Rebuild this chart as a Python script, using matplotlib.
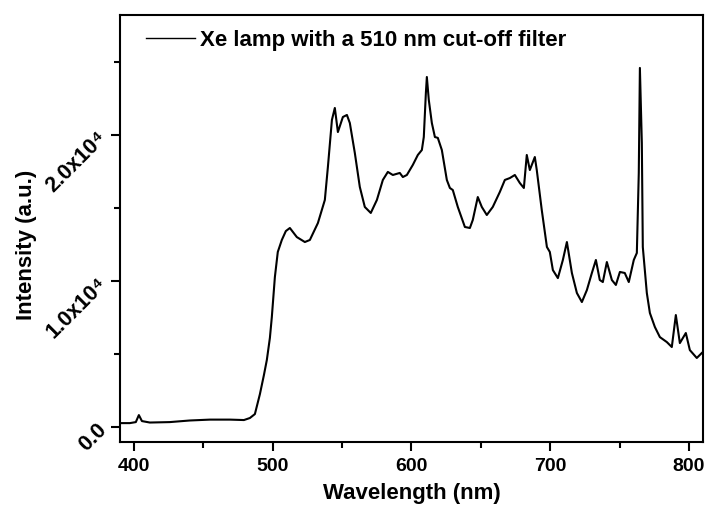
import matplotlib.pyplot as plt
from matplotlib.lines import Line2D
from matplotlib.ticker import MultipleLocator, FuncFormatter
import numpy as np

# spectrum
wavelength = [390.0, 397.1, 401.4, 403.6, 405.8, 411.5, 425.9, 440.3, 454.8, 469.2,
              479.3, 483.6, 487.2, 490.8, 493.7, 495.8, 498.0, 499.4, 501.6, 503.7,
              506.6, 509.5, 512.4, 517.4, 523.2, 526.8, 532.6, 537.6, 539.8, 542.7,
              544.8, 547.0, 550.6, 553.5, 555.6, 559.2, 562.8, 566.4, 570.7, 575.1,
              579.4, 583.0, 586.6, 591.6, 593.8, 596.7, 601.0, 604.6, 607.5, 608.9,
              610.4, 611.1, 612.5, 614.7, 616.9, 619.0, 621.9, 625.5, 627.7, 629.8,
              633.4, 638.5, 642.1, 644.2, 647.8, 650.7, 654.3, 658.6, 663.7, 667.3,
              670.9, 674.5, 678.1, 681.0, 683.1, 685.3, 688.9, 690.3, 693.9, 697.6,
              699.7, 701.9, 705.5, 709.1, 712.0, 715.6, 719.2, 722.8, 726.4, 730.0,
              732.9, 735.7, 737.9, 740.8, 744.4, 747.3, 750.2, 753.7, 756.6, 760.2,
              762.4, 763.8, 764.6, 766.0, 766.7, 769.6, 771.8, 775.4, 779.0, 784.0,
              787.6, 790.5, 793.4, 797.7, 800.6, 805.6, 809.2]
intensity = [270, 270, 340, 820, 410, 310, 340, 450, 510, 510,
             480, 620, 890, 2250, 3560, 4590, 6100, 7530, 10270, 11990,
             12810, 13420, 13630, 13010, 12670, 12810, 13970, 15550, 17810, 21030,
             21850, 20200, 21230, 21370, 20820, 18770, 16440, 15070, 14660, 15550,
             16920, 17470, 17260, 17400, 17120, 17260, 17950, 18630, 18970, 19860,
             22880, 23970, 22400, 20820, 19860, 19800, 18970, 16920, 16370, 16230,
             15070, 13700, 13630, 14180, 15750, 15070, 14520, 15070, 16100, 16920,
             17050, 17260, 16710, 16370, 18630, 17600, 18490, 17600, 14860, 12330,
             11990, 10750, 10200, 11440, 12670, 10550, 9180, 8560, 9380, 10550,
             11440, 10070, 9930, 11300, 10070, 9730, 10620, 10550, 9930, 11440,
             11920, 17400, 24590, 19450, 12330, 9180, 7810, 6850, 6160, 5820,
             5480, 7670, 5750, 6440, 5270, 4730, 5070]

x_ticks = [400, 500, 600, 700, 800]
y_ticks = [0, 10000, 20000]

plt.rcParams['font.family'] = ['Liberation Sans', 'DejaVu Sans']
plt.rcParams['font.weight'] = 'bold'

fig = plt.figure(figsize=(7.1, 5.07), dpi=100)
ax = fig.add_axes([0.169, 0.128, 0.821, 0.842])

ax.plot(wavelength, intensity, color='black', lw=1.5)

ax.set_xlim(390, 810)
ax.set_ylim(-1030, 28200)

ax.set_xticks(x_ticks)
ax.xaxis.set_minor_locator(MultipleLocator(50))
ax.set_yticks(y_ticks)
ax.yaxis.set_minor_locator(MultipleLocator(5000))

SUP = str.maketrans('0123456789', '⁰¹²³⁴⁵⁶⁷⁸⁹')


def sci_fmt(v, pos):
    if v == 0:
        return '0.0'
    exp = int(np.floor(np.log10(abs(v))))
    return '%.1fx10%s' % (v / 10 ** exp, str(exp).translate(SUP))


ax.yaxis.set_major_formatter(FuncFormatter(sci_fmt))

ax.tick_params(which='both', direction='out', width=1.5, top=False, right=False)
ax.tick_params(axis='x', labelsize=14)
ax.tick_params(axis='y', labelsize=15.5)
ax.tick_params(which='major', length=6.5, pad=5)
ax.tick_params(which='minor', length=4)
for lab in ax.get_xticklabels():
    lab.set_fontweight('bold')
for lab in ax.get_yticklabels():
    lab.set_fontweight('bold')
    lab.set_rotation(45)
    lab.set_rotation_mode('anchor')
    lab.set_ha('right')
    lab.set_va('center')

for sp in ax.spines.values():
    sp.set_linewidth(1.5)

ax.set_xlabel('Wavelength (nm)', fontsize=16, fontweight='bold', labelpad=5.5)
ax.set_ylabel('Intensity (a.u.)', fontsize=16, fontweight='bold')
ax.yaxis.label.set_va('center')
ax.yaxis.set_label_coords(-0.161, 0.4625)

handle = Line2D([], [], color='black', lw=1.0)
ax.legend([handle], ['Xe lamp with a 510 nm cut-off filter'], loc='upper left',
          bbox_to_anchor=(0.029, 0.987), borderaxespad=0, frameon=False,
          fontsize=16, handlelength=2.2, handletextpad=0.23)

fig.savefig('out.png', dpi=100)
